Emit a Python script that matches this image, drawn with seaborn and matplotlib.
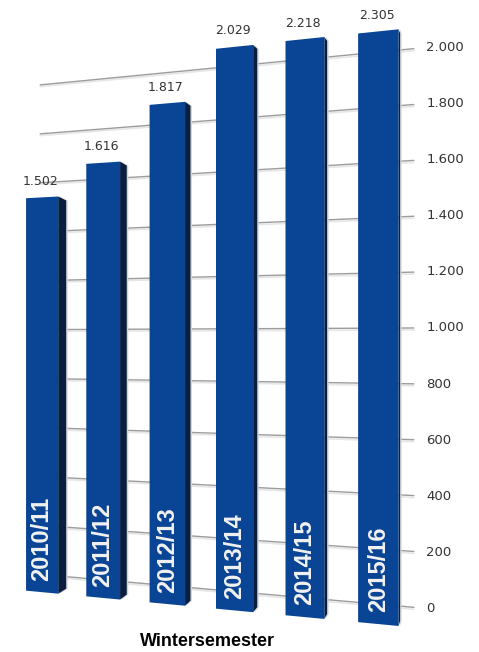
import numpy as np
import seaborn as sns
import matplotlib.pyplot as plt
from matplotlib.transforms import Transform

semesters = ['2010/11', '2011/12', '2012/13', '2013/14', '2014/15', '2015/16']
value_labels = ['1.502', '1.616', '1.817', '2.029', '2.218', '2.305']
# bars in the picture do not follow their labels, the last ones are cut off
bar_tops = [1540, 1665, 1880, 2073, 2075, 2075]
bar_base = -72
grid_values = [0, 200, 400, 600, 800, 1000, 1200, 1400, 1600, 1800, 2000]


class BarPerspective(Transform):
    # bar index / value -> pixels, chart gets bigger towards the right
    input_dims = 2
    output_dims = 2

    def transform_non_affine(self, values):
        values = np.asarray(values, dtype=float)
        u, v = values[:, 0], values[:, 1]
        px = 42 + 59.5 * u + 1.55 * u ** 2
        y0 = 577 + (px - 70) * 0.0882
        scale = 0.2475 + (px - 70) * 0.0000926
        return np.column_stack([px, y0 - scale * v])


sns.set_theme(style='white')
plt.rcParams['font.family'] = ['Liberation Sans', 'DejaVu Sans']

fig, ax = plt.subplots(figsize=(4.79, 6.52), dpi=100)
fig.subplots_adjust(left=0, right=1, bottom=0, top=1)

positions = np.arange(len(semesters))
sns.barplot(x=positions, y=bar_tops, native_scale=True, width=0.54,
            color='#0a4595', saturation=1, ax=ax, zorder=3)

ax.set_xlim(0, 479)
ax.set_ylim(652, 0)
ax.set_axis_off()

persp = BarPerspective()
to_pixels = persp + ax.transData

for val in grid_values:
    ax.plot([-0.03, 5.47], [val - 7, val - 7], transform=to_pixels, color='#e6e6e6', lw=1.2, zorder=1)
    ax.plot([-0.03, 5.47], [val, val], transform=to_pixels, color='#9c9c9c', lw=1.0, zorder=1.5)
    ax.text(5.63, val, f'{val:,}'.replace(',', '.'), transform=to_pixels, ha='left', va='center',
            fontsize=9.5, color='#333333', family='DejaVu Sans', zorder=5)

for i, bar in enumerate(ax.patches):
    left = bar.get_x()
    right = left + bar.get_width()
    top = bar_tops[i]
    bar.set_y(bar_base)
    bar.set_height(top - bar_base)
    bar.set_transform(to_pixels)
    bar.set_clip_on(False)
    bar.set_edgecolor('none')

    # dark side face on the right of the bar, soft grey shadow behind it
    tr, br = persp.transform(np.array([[right, top], [right, bar_base]]))
    depth = 8 - 1.3 * i
    side = np.array([tr, tr + [depth, 4], br + [depth, -5], br])
    ax.fill(side[:, 0] + 1.5, side[:, 1], color='#d4d4d4', lw=0, zorder=2.4)
    ax.fill(side[:, 0], side[:, 1], color='#0a1f3f', lw=0, zorder=2.5)

    ax.annotate(value_labels[i], xy=(i, top), xycoords=to_pixels, xytext=(-1, 11.5),
                textcoords='offset points', ha='center', va='center', fontsize=9,
                color='#333333', family='DejaVu Sans', annotation_clip=False, zorder=5)
    ax.text(i, -28, semesters[i], transform=to_pixels, rotation=90, ha='center', va='bottom',
            fontsize=17, fontweight='bold', color='#f2f2f2', zorder=6)

ax.text(207, 641, 'Wintersemester', ha='center', va='center', fontsize=13, fontweight='bold', color='black')

plt.savefig('out.png', dpi=100)
